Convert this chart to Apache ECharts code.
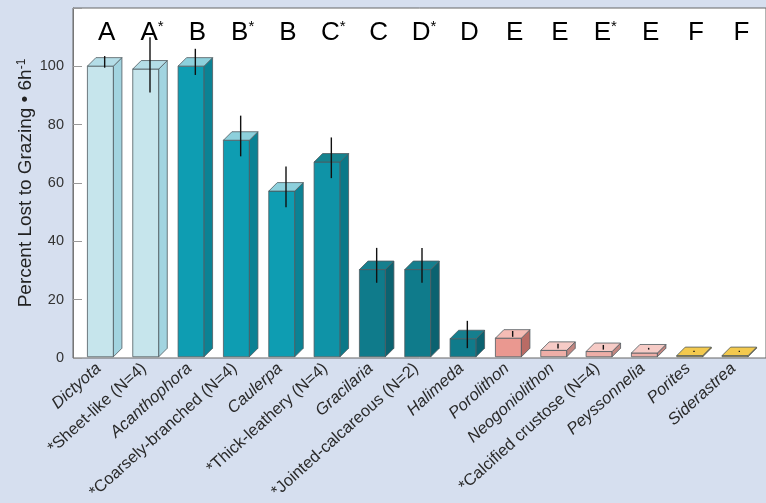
<!DOCTYPE html>
<html>
<head>
<meta charset="utf-8">
<script src="https://cdn.jsdelivr.net/npm/echarts@6/dist/echarts.min.js"></script>
<style>
  html, body { margin: 0; padding: 0; background: #d6dfef; }
  #chart { width: 766px; height: 503px; }
</style>
</head>
<body>
<div id="chart"></div>
<script>
// categories (genus names in italics, functional groups start with *)
const categories = [
  'Dictyota', '*Sheet-like (N=4)', 'Acanthophora', '*Coarsely-branched (N=4)',
  'Caulerpa', '*Thick-leathery (N=4)', 'Gracilaria', '*Jointed-calcareous (N=2)',
  'Halimeda', 'Porolithon', 'Neogoniolithon', '*Calcified crustose (N=4)',
  'Peyssonnelia', 'Porites', 'Siderastrea'
];
const percentLost = [100, 99, 100, 74.5, 57, 67, 30, 30, 6.2, 6.4, 2.2, 1.8, 1.3, 0.4, 0.4];
const errors = [2, 9.5, 4.5, 7, 7, 7, 6, 6, 4.7, 1, 0.8, 0.8, 0.3, 0.2, 0.2];
const letters = ['A', 'A*', 'B', 'B*', 'B', 'C*', 'C', 'D*', 'D', 'E', 'E', 'E*', 'E', 'F', 'F'];
const yTicks = [0, 20, 40, 60, 80, 100];

// colour group of every bar
const barGroup = [0, 0, 1, 1, 1, 2, 3, 3, 3, 4, 5, 5, 5, 6, 6];
const palette = [
  { front: '#c6e5ec', side: '#a2d4e0', top: '#b4dde7' },
  { front: '#0e9db2', side: '#0b8294', top: '#8dd0dc' },
  { front: '#0f93a7', side: '#0b7888', top: '#15838f' },
  { front: '#0f7b8b', side: '#0b6270', top: '#167f8e' },
  { front: '#ea9890', side: '#b96b65', top: '#f5bcb5' },
  { front: '#eeaea7', side: '#c28680', top: '#f6cbc6' },
  { front: '#e2aa35', side: '#b98724', top: '#f3c94e' }
];

const BAR_W = 26;
const DEPTH = 8.5;

function boxItem(params, api) {
  const i = api.value(0);
  const v = api.value(1);
  const base = api.coord([i, 0]);
  const top = api.coord([i, v]);
  const x0 = base[0] - (BAR_W + DEPTH) / 2;
  const x1 = x0 + BAR_W;
  const yT = top[1];
  const yB = base[1];
  const c = palette[barGroup[i]];
  const edge = { stroke: '#4f5b60', lineWidth: 0.8 };
  const half = api.size([0, api.value(2)])[1];
  const ex = x0 + BAR_W / 2 + DEPTH / 2;
  const ey = yT - DEPTH / 2;
  return {
    type: 'group',
    children: [
      { type: 'rect', shape: { x: x0, y: yT, width: BAR_W, height: yB - yT },
        style: Object.assign({ fill: c.front }, edge) },
      { type: 'polygon', shape: { points: [[x1, yT], [x1 + DEPTH, yT - DEPTH], [x1 + DEPTH, yB - DEPTH], [x1, yB]] },
        style: Object.assign({ fill: c.side }, edge) },
      { type: 'polygon', shape: { points: [[x0, yT], [x0 + DEPTH, yT - DEPTH], [x1 + DEPTH, yT - DEPTH], [x1, yT]] },
        style: Object.assign({ fill: c.top }, edge) },
      { type: 'line', shape: { x1: ex, y1: ey - half, x2: ex, y2: ey + half },
        style: { stroke: '#111', lineWidth: 1.4 } }
    ]
  };
}

function letterItem(params, api) {
  const i = api.value(0);
  const p = api.coord([i, 111.5]);
  const raw = letters[i];
  const txt = raw.endsWith('*') ? '{l|' + raw[0] + '}{s|*}' : '{l|' + raw + '}';
  return {
    type: 'text',
    x: p[0] + 2,
    y: p[1],
    style: {
      text: txt,
      align: 'center',
      verticalAlign: 'middle',
      rich: {
        l: { fontFamily: 'Liberation Sans', fontSize: 26, color: '#1a1a1a' },
        s: { fontFamily: 'Liberation Sans', fontSize: 15, color: '#1a1a1a', verticalAlign: 'top' }
      }
    }
  };
}

const chart = echarts.init(document.getElementById('chart'));
chart.setOption({
  backgroundColor: '#d6dfef',
  animation: false,
  grid: [
    { left: 73, right: -1, top: 8, bottom: 145, show: true, backgroundColor: '#ffffff',
      borderColor: '#666', borderWidth: 1 },
    { left: 82, right: 4, top: 8, bottom: 145 }
  ],
  xAxis: [
    { gridIndex: 0, type: 'value', show: false, min: 0, max: 1 },
    {
      gridIndex: 1, type: 'category', data: categories,
      axisLine: { show: false }, axisTick: { show: false },
      axisLabel: {
        interval: 0, rotate: 42, margin: 4,
        formatter: name => name.startsWith('*') ? '{n|' + name + '}' : '{i|' + name + '}',
        rich: {
          i: { fontFamily: 'Liberation Sans', fontSize: 16.5, fontStyle: 'italic', color: '#2a2a2a', padding: [0, 8, 0, 0] },
          n: { fontFamily: 'Liberation Sans', fontSize: 16.5, color: '#2a2a2a', padding: [0, 8, 0, 0] }
        }
      }
    }
  ],
  yAxis: [
    {
      gridIndex: 0, type: 'value', min: 0, max: 120, interval: 20,
      axisLine: { show: true, lineStyle: { color: '#777' } },
      axisTick: { show: true, inside: true, length: 9, lineStyle: { color: '#999' } },
      splitLine: { show: false },
      axisLabel: {
        margin: 9, fontFamily: 'Liberation Sans', fontSize: 14.5, color: '#333',
        formatter: v => yTicks.includes(v) ? String(v) : ''
      },
      name: '{n|Percent Lost to Grazing • 6h}{s|-1}',
      nameLocation: 'middle',
      nameGap: 38,
      nameRotate: 90,
      nameMoveOverlap: false,
      nameTextStyle: {
        rich: {
          n: { fontFamily: 'Liberation Sans', fontSize: 19, color: '#222' },
          s: { fontFamily: 'Liberation Sans', fontSize: 12, color: '#222', verticalAlign: 'top' }
        }
      }
    },
    { gridIndex: 1, type: 'value', min: 0, max: 120, show: false }
  ],
  series: [
    {
      type: 'custom', xAxisIndex: 1, yAxisIndex: 1,
      renderItem: boxItem,
      data: percentLost.map((v, i) => [i, v, errors[i]]),
      z: 3
    },
    {
      type: 'custom', xAxisIndex: 1, yAxisIndex: 1,
      renderItem: letterItem,
      data: letters.map((l, i) => [i]),
      z: 4
    }
  ]
});
</script>
</body>
</html>
